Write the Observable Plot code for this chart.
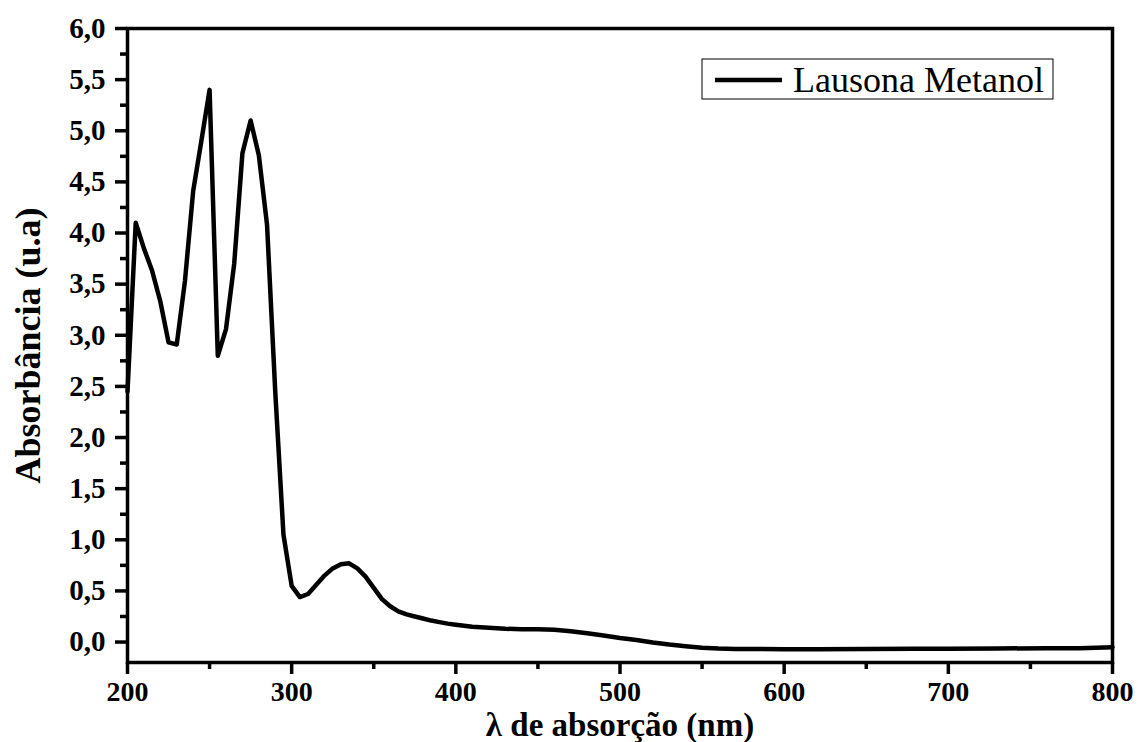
<!DOCTYPE html>
<html>
<head>
<meta charset="utf-8">
<script src="https://cdn.jsdelivr.net/npm/d3@7"></script>
<script src="https://cdn.jsdelivr.net/npm/@observablehq/plot@0.6"></script>
<style>
  html, body { margin: 0; padding: 0; background: #fff; }
  #chart svg { display: block; }
</style>
</head>
<body>
<div id="chart"></div>
<script>
// UV-Vis absorption spectrum of lawsone in methanol
const wavelength = [
  200, 205, 210, 215, 220, 225, 230, 235, 240, 245, 250, 255, 260, 265, 270, 275, 280, 285, 290, 295,
  300, 305, 310, 315, 320, 325, 330, 335, 340, 345, 350, 355, 360, 365, 370, 375, 380, 385, 390, 395,
  400, 410, 420, 430, 440, 450, 460, 470, 480, 490, 500, 510, 520, 530, 540, 550, 560, 570, 580, 600,
  620, 650, 680, 700, 730, 760, 780, 800
];
const absorbance = [
  2.45, 4.10, 3.85, 3.63, 3.33, 2.93, 2.91, 3.53, 4.41, 4.90, 5.40, 2.80, 3.06, 3.70, 4.78, 5.10, 4.76, 4.08, 2.45, 1.05,
  0.55, 0.44, 0.47, 0.56, 0.65, 0.72, 0.76, 0.77, 0.72, 0.64, 0.53, 0.42, 0.35, 0.30, 0.27, 0.25, 0.23, 0.21, 0.195, 0.18,
  0.17, 0.15, 0.14, 0.13, 0.125, 0.125, 0.12, 0.105, 0.085, 0.065, 0.04, 0.02, -0.005, -0.025, -0.04, -0.055, -0.063, -0.067, -0.068, -0.07,
  -0.07, -0.068, -0.066, -0.065, -0.063, -0.06, -0.06, -0.05
];

const xTicks = [200, 300, 400, 500, 600, 700, 800];
const xMinorTicks = [250, 350, 450, 550, 650, 750];
const yTicks = [0, 0.5, 1.0, 1.5, 2.0, 2.5, 3.0, 3.5, 4.0, 4.5, 5.0, 5.5, 6.0];
const yMinorTicks = [0.25, 0.75, 1.25, 1.75, 2.25, 2.75, 3.25, 3.75, 4.25, 4.75, 5.25, 5.75];

const xTitle = "λ de absorção (nm)";
const yTitle = "Absorbância (u.a)";
const seriesName = "Lausona Metanol";

const spectrum = wavelength.map((w, i) => ({w, a: absorbance[i]}));
const comma = d => d.toFixed(1).replace(".", ",");

const svg = Plot.plot({
  width: 1138,
  height: 742,
  marginLeft: 127,
  marginRight: 26,
  marginTop: 28,
  marginBottom: 80,
  style: {
    fontFamily: "'Liberation Serif', 'Times New Roman', serif",
    fontWeight: "bold",
    color: "#000",
    background: "#fff"
  },
  x: {domain: [200, 800]},
  y: {domain: [-0.2, 6.0]},
  marks: [
    Plot.axisX(xTicks, {tickSize: 12, strokeWidth: 3.5, tickPadding: 7, fontSize: 28, label: null, tickFormat: d => String(d)}),
    Plot.axisX(xMinorTicks, {tickSize: 7, strokeWidth: 3.5, tickFormat: () => "", label: null}),
    Plot.axisY(yTicks, {tickSize: 12, strokeWidth: 3.5, tickPadding: 10, fontSize: 29, label: null, tickFormat: comma}),
    Plot.axisY(yMinorTicks, {tickSize: 7, strokeWidth: 3.5, tickFormat: () => "", label: null}),
    Plot.frame({stroke: "#000", strokeWidth: 3.5}),
    Plot.line(spectrum, {x: "w", y: "a", stroke: "#000", strokeWidth: 4.5}),
    Plot.text([xTitle], {
      text: d => d, frameAnchor: "bottom", textAnchor: "middle", lineAnchor: "middle",
      dy: 63, fontSize: 33, fontWeight: "bold", fill: "#000"
    }),
    Plot.text([yTitle], {
      text: d => d, frameAnchor: "left", textAnchor: "middle", lineAnchor: "middle",
      rotate: -90, dx: -99, fontSize: 36, fontWeight: "bold", fill: "#000"
    })
  ]
});

// Legend box in the upper right of the plotting area
const legend = d3.select(svg).append("g").attr("class", "legend");
legend.append("rect")
  .attr("x", 702).attr("y", 59).attr("width", 351).attr("height", 40)
  .attr("fill", "#fff").attr("stroke", "#000").attr("stroke-width", 1);
legend.append("line")
  .attr("x1", 715).attr("x2", 782).attr("y1", 80).attr("y2", 80)
  .attr("stroke", "#000").attr("stroke-width", 4.5);
legend.append("text")
  .attr("x", 793).attr("y", 92)
  .attr("text-anchor", "start")
  .attr("font-family", "'Liberation Serif', 'Times New Roman', serif")
  .attr("font-weight", "normal")
  .attr("font-size", 36)
  .attr("fill", "#000")
  .text(seriesName);

document.getElementById("chart").appendChild(svg);
</script>
</body>
</html>
